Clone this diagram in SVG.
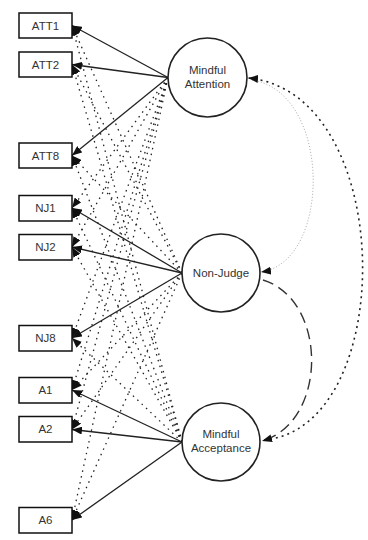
<svg xmlns="http://www.w3.org/2000/svg" width="368" height="540" viewBox="0 0 368 540">
<style>
.box{fill:#fff;stroke:#111;stroke-width:1.5}
.fac{fill:#fff;stroke:#222;stroke-width:1.6}
.lbl{font-family:"Liberation Sans",Arial,sans-serif;font-size:11.5px;fill:#333;text-anchor:middle}
.solid{stroke:#222;stroke-width:1.3;fill:none}
.dot{stroke:#222;stroke-width:1.3;fill:none;stroke-dasharray:1.5 4.5}
.gdot{stroke:#aaa;stroke-width:1;fill:none;stroke-dasharray:1 2}
.cdot{stroke:#222;stroke-width:1.6;fill:none;stroke-dasharray:2 4}
.dash{stroke:#333;stroke-width:1.4;fill:none;stroke-dasharray:11 6}
</style>
<defs>
<marker id="ah" viewBox="0 0 10 8" refX="10" refY="4" markerWidth="10" markerHeight="8" markerUnits="userSpaceOnUse" orient="auto">
<path d="M0,0 L10,4 L0,8 Z" fill="#111" stroke="none"/>
</marker>
</defs>
<g id="connectors">
<line class="solid" x1="168" y1="77.5" x2="72" y2="25.5" marker-end="url(#ah)"/>
<line class="solid" x1="168" y1="77.5" x2="72" y2="64.5" marker-end="url(#ah)"/>
<line class="solid" x1="168" y1="77.5" x2="72" y2="155.5" marker-end="url(#ah)"/>
<line class="dot" x1="168" y1="77.5" x2="72" y2="208" marker-end="url(#ah)"/>
<line class="dot" x1="168" y1="77.5" x2="72" y2="247" marker-end="url(#ah)"/>
<line class="dot" x1="168" y1="77.5" x2="72" y2="338" marker-end="url(#ah)"/>
<line class="dot" x1="168" y1="77.5" x2="72" y2="390" marker-end="url(#ah)"/>
<line class="dot" x1="168" y1="77.5" x2="72" y2="429.5" marker-end="url(#ah)"/>
<line class="dot" x1="168" y1="77.5" x2="72" y2="520" marker-end="url(#ah)"/>
<line class="dot" x1="182" y1="273" x2="72" y2="25.5" marker-end="url(#ah)"/>
<line class="dot" x1="182" y1="273" x2="72" y2="64.5" marker-end="url(#ah)"/>
<line class="dot" x1="182" y1="273" x2="72" y2="155.5" marker-end="url(#ah)"/>
<line class="solid" x1="182" y1="273" x2="72" y2="208" marker-end="url(#ah)"/>
<line class="solid" x1="182" y1="273" x2="72" y2="247" marker-end="url(#ah)"/>
<line class="solid" x1="182" y1="273" x2="72" y2="338" marker-end="url(#ah)"/>
<line class="dot" x1="182" y1="273" x2="72" y2="390" marker-end="url(#ah)"/>
<line class="dot" x1="182" y1="273" x2="72" y2="429.5" marker-end="url(#ah)"/>
<line class="dot" x1="182" y1="273" x2="72" y2="520" marker-end="url(#ah)"/>
<line class="dot" x1="182" y1="442" x2="72" y2="25.5" marker-end="url(#ah)"/>
<line class="dot" x1="182" y1="442" x2="72" y2="64.5" marker-end="url(#ah)"/>
<line class="dot" x1="182" y1="442" x2="72" y2="155.5" marker-end="url(#ah)"/>
<line class="dot" x1="182" y1="442" x2="72" y2="208" marker-end="url(#ah)"/>
<line class="dot" x1="182" y1="442" x2="72" y2="247" marker-end="url(#ah)"/>
<line class="dot" x1="182" y1="442" x2="72" y2="338" marker-end="url(#ah)"/>
<line class="solid" x1="182" y1="442" x2="72" y2="390" marker-end="url(#ah)"/>
<line class="solid" x1="182" y1="442" x2="72" y2="429.5" marker-end="url(#ah)"/>
<line class="solid" x1="182" y1="442" x2="72" y2="520" marker-end="url(#ah)"/>
<path class="gdot" d="M 252 80 C 332 92, 332 262, 261 272" marker-end="url(#ah)"/>
<path class="cdot" d="M 264 440 C 399 428, 397 92, 248 78" marker-end="url(#ah)"/>
<path class="dash" d="M 263 280 C 328 300, 328 422, 262 441" marker-end="url(#ah)"/>
</g>
<g id="ATT1"><rect class="box" x="19" y="13" width="53" height="25"/><text class="lbl" x="45.5" y="29.5">ATT1</text></g>
<g id="ATT2"><rect class="box" x="19" y="52" width="53" height="25"/><text class="lbl" x="45.5" y="68.5">ATT2</text></g>
<g id="ATT8"><rect class="box" x="19" y="143" width="53" height="25"/><text class="lbl" x="45.5" y="159.5">ATT8</text></g>
<g id="NJ1"><rect class="box" x="19" y="195.5" width="53" height="25.5"/><text class="lbl" x="45.5" y="212">NJ1</text></g>
<g id="NJ2"><rect class="box" x="19" y="234.5" width="53" height="25.5"/><text class="lbl" x="45.5" y="251">NJ2</text></g>
<g id="NJ8"><rect class="box" x="19" y="325.5" width="53" height="25.5"/><text class="lbl" x="45.5" y="342">NJ8</text></g>
<g id="A1"><rect class="box" x="19" y="377.5" width="53" height="25.5"/><text class="lbl" x="45.5" y="394">A1</text></g>
<g id="A2"><rect class="box" x="19" y="416.5" width="53" height="25.5"/><text class="lbl" x="45.5" y="433">A2</text></g>
<g id="A6"><rect class="box" x="19" y="507.5" width="53" height="25.5"/><text class="lbl" x="45.5" y="524">A6</text></g>
<g id="MindfulAttention"><circle class="fac" cx="207.5" cy="77.5" r="39.5"/><text class="lbl" x="207.5" y="73.5">Mindful</text><text class="lbl" x="207.5" y="87.5">Attention</text></g>
<g id="NonJudge"><circle class="fac" cx="221" cy="273" r="39"/><text class="lbl" x="221" y="277">Non-Judge</text></g>
<g id="MindfulAcceptance"><circle class="fac" cx="221" cy="442" r="39"/><text class="lbl" x="221" y="438">Mindful</text><text class="lbl" x="221" y="452">Acceptance</text></g>
</svg>
